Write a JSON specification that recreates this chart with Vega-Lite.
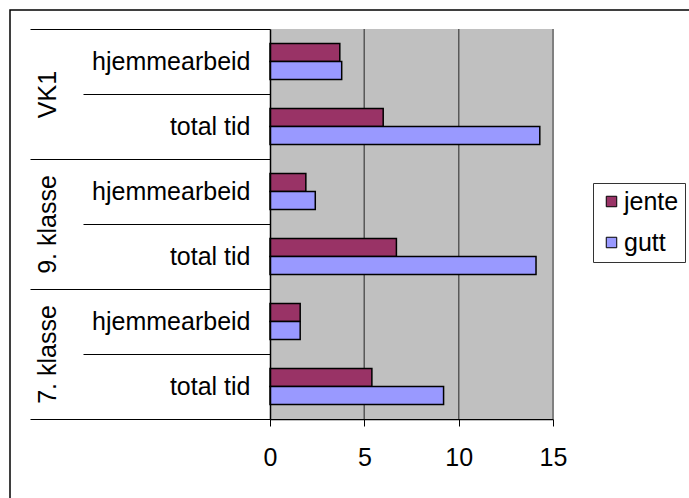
{
  "$schema": "https://vega.github.io/schema/vega-lite/v6.json",
  "width": 700,
  "height": 500,
  "autosize": {"type": "none"},
  "padding": {"left": 10, "top": 10, "right": 0, "bottom": 0},
  "background": "white",
  "config": {
    "font": "Liberation Sans",
    "view": {"stroke": "black", "strokeWidth": 1.5}
  },
  "data": {
    "values": [
      {"group": "VK1", "sub": "hjemmearbeid", "series": "jente", "value": 3.7},
      {"group": "VK1", "sub": "hjemmearbeid", "series": "gutt", "value": 3.8},
      {"group": "VK1", "sub": "total tid", "series": "jente", "value": 6.0},
      {"group": "VK1", "sub": "total tid", "series": "gutt", "value": 14.3},
      {"group": "9. klasse", "sub": "hjemmearbeid", "series": "jente", "value": 1.9},
      {"group": "9. klasse", "sub": "hjemmearbeid", "series": "gutt", "value": 2.4},
      {"group": "9. klasse", "sub": "total tid", "series": "jente", "value": 6.7},
      {"group": "9. klasse", "sub": "total tid", "series": "gutt", "value": 14.1},
      {"group": "7. klasse", "sub": "hjemmearbeid", "series": "jente", "value": 1.6},
      {"group": "7. klasse", "sub": "hjemmearbeid", "series": "gutt", "value": 1.6},
      {"group": "7. klasse", "sub": "total tid", "series": "jente", "value": 5.4},
      {"group": "7. klasse", "sub": "total tid", "series": "gutt", "value": 9.2}
    ]
  },
  "transform": [
    {"calculate": "datum.group + '|' + datum.sub", "as": "key"}
  ],
  "layer": [
    {
      "layer": [
        {
          "mark": {"type": "rect", "color": "#C0C0C0"},
          "encoding": {
            "x": {"datum": 0, "type": "quantitative"},
            "x2": {"datum": 15},
            "y": {"field": "key", "type": "nominal", "sort": null}
          }
        },
        {
          "mark": {"type": "rect", "fill": null, "stroke": "#5a5a5a", "strokeWidth": 1},
          "encoding": {
            "x": {"datum": 5, "type": "quantitative"},
            "x2": {"datum": 5},
            "y": {"field": "key", "type": "nominal", "sort": null}
          }
        },
        {
          "mark": {"type": "rect", "fill": null, "stroke": "#5a5a5a", "strokeWidth": 1},
          "encoding": {
            "x": {"datum": 10, "type": "quantitative"},
            "x2": {"datum": 10},
            "y": {"field": "key", "type": "nominal", "sort": null}
          }
        },
        {
          "mark": {"type": "rect", "fill": null, "stroke": "#808080", "strokeWidth": 2},
          "encoding": {
            "x": {"datum": 15, "type": "quantitative"},
            "x2": {"datum": 15},
            "y": {"field": "key", "type": "nominal", "sort": null}
          }
        },
        {
          "mark": {"type": "bar", "stroke": "black", "strokeWidth": 1.5},
          "encoding": {
            "x": {
              "field": "value",
              "type": "quantitative",
              "scale": {"domain": [0, 15], "range": [260, 543], "nice": false, "zero": true},
              "axis": {
                "title": null,
                "orient": "bottom",
                "offset": -91,
                "values": [0, 5, 10, 15],
                "grid": false,
                "labelFlush": false,
                "domainColor": "black",
                "domainWidth": 1.5,
                "tickColor": "black",
                "tickSize": 7,
                "labelPadding": 19,
                "labelFontSize": 25,
                "labelColor": "black",
                "labelFont": "Liberation Sans"
              }
            },
            "y": {
              "field": "key",
              "type": "nominal",
              "sort": null,
              "scale": {"range": [19, 409], "paddingInner": 0, "paddingOuter": 0},
              "axis": {
                "title": null,
                "orient": "left",
                "offset": -260,
                "tickBand": "extent",
                "tickSize": 187,
                "tickColor": "black",
                "domainColor": "black",
                "domainWidth": 1.5,
                "labelPadding": -167,
                "labelAlign": "right",
                "labelBaseline": "middle",
                "labelFontSize": 25,
                "labelColor": "black",
                "labelFont": "Liberation Sans",
                "labelExpr": "split(datum.label, '|')[1]"
              }
            },
            "yOffset": {
              "field": "series",
              "type": "nominal",
              "sort": ["jente", "gutt"],
              "scale": {"paddingInner": 0, "paddingOuter": 0.8056}
            },
            "color": {
              "field": "series",
              "type": "nominal",
              "sort": ["jente", "gutt"],
              "scale": {"domain": ["jente", "gutt"], "range": ["#993366", "#9999FF"]},
              "legend": {
                "title": null,
                "orient": "none",
                "legendX": 583,
                "legendY": 173,
                "strokeColor": "#333333",
                "fillColor": "white",
                "padding": 6,
                "symbolType": "square",
                "symbolSize": 110,
                "symbolStrokeColor": "black",
                "symbolStrokeWidth": 1,
                "labelFontSize": 25,
                "labelFont": "Liberation Sans",
                "labelColor": "black",
                "labelOffset": 0,
                "rowPadding": 15
              }
            }
          }
        }
      ]
    },
    {
      "mark": {"type": "point", "opacity": 0},
      "encoding": {
        "x": {"datum": 0, "type": "quantitative"},
        "y": {
          "field": "group",
          "type": "nominal",
          "sort": ["VK1", "9. klasse", "7. klasse"],
          "scale": {"range": [19, 409], "paddingInner": 0, "paddingOuter": 0},
          "axis": {
            "title": null,
            "orient": "left",
            "offset": -260,
            "domain": false,
            "tickBand": "extent",
            "tickSize": 240,
            "tickColor": "black",
            "labelAngle": 270,
            "labelAlign": "center",
            "labelBaseline": "middle",
            "labelPadding": -17,
            "labelFontSize": 25,
            "labelColor": "black",
            "labelFont": "Liberation Sans"
          }
        }
      }
    }
  ],
  "resolve": {"scale": {"y": "independent"}, "axis": {"y": "independent"}}
}
